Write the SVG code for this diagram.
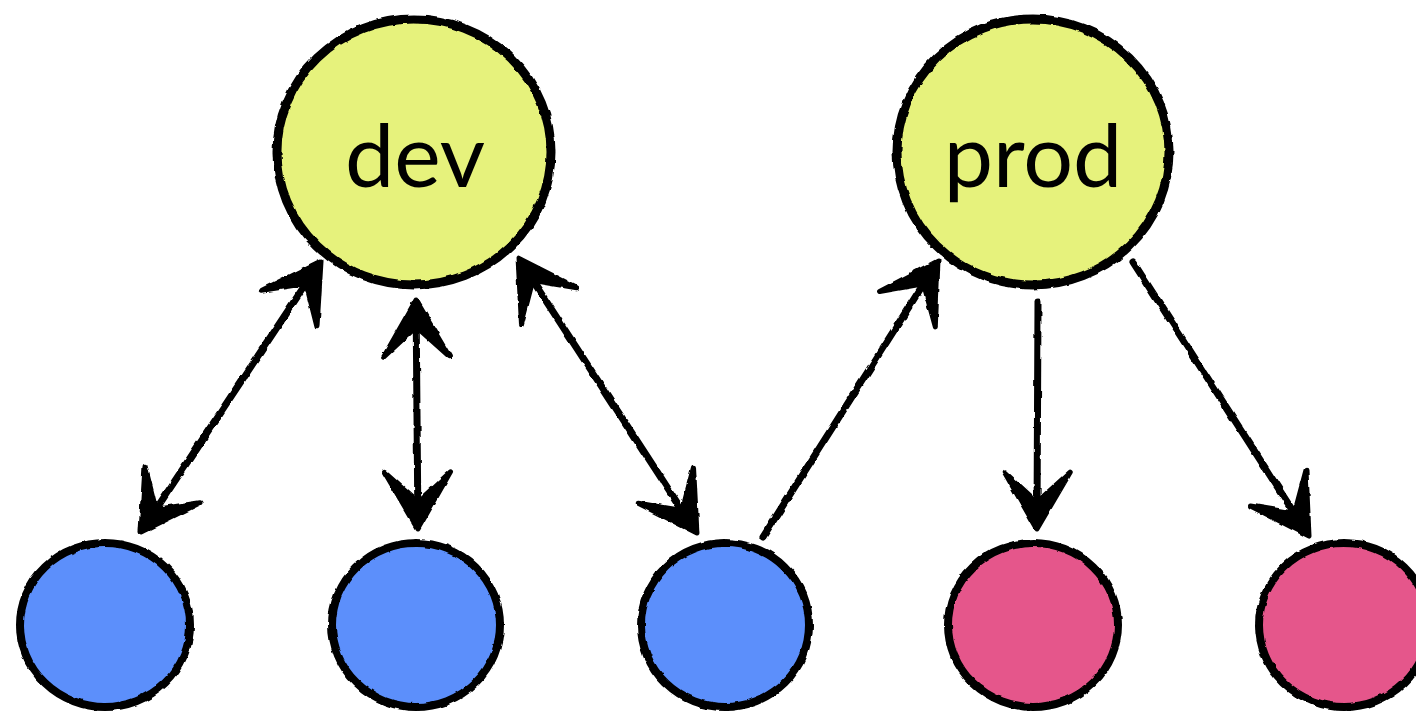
<svg xmlns="http://www.w3.org/2000/svg" width="1416" height="711" viewBox="0 0 1416 711">
<style>
.big{fill:#e6f27c;stroke:#000;stroke-width:9}
.blue{fill:#5c8ffb;stroke:#000;stroke-width:8}
.pink{fill:#e5578b;stroke:#000;stroke-width:8}
.lbl{font-family:Lato,"Noto Sans","DejaVu Sans",sans-serif;font-size:88px;fill:#000;text-anchor:middle}
.conn{fill:none;stroke:#000;stroke-width:7;stroke-linecap:round}
.sk{filter:url(#rough)}
</style>
<defs>
<filter id="rough" x="-5%" y="-5%" width="110%" height="110%">
<feTurbulence type="fractalNoise" baseFrequency="0.09" numOctaves="2" seed="3" result="n"/>
<feDisplacementMap in="SourceGraphic" in2="n" scale="3.5" xChannelSelector="R" yChannelSelector="G"/>
</filter>
<marker id="head" markerUnits="userSpaceOnUse" viewBox="-66 -42 78 84" markerWidth="78" markerHeight="84" refX="-8" refY="0" orient="auto-start-reverse">
<path d="M0,0 L-57,-33 L-27,0 L-57,33 Z" fill="#000" stroke="#000" stroke-width="5" stroke-linejoin="round"/>
</marker>
</defs>
<rect width="1416" height="711" fill="#fff"/>
<g id="connectors" class="sk">
<path class="conn" d="M316.6,267.7 L145.4,525.3" marker-start="url(#head)" marker-end="url(#head)"/>
<path class="conn" d="M416.1,308 L417.9,521" marker-start="url(#head)" marker-end="url(#head)"/>
<path class="conn" d="M522.4,264.7 L692.6,526.3" marker-start="url(#head)" marker-end="url(#head)"/>
<path class="conn" d="M763,537 L933.7,267.8" marker-end="url(#head)"/>
<path class="conn" d="M1038,302 L1037,521" marker-end="url(#head)"/>
<path class="conn" d="M1133,262 L1304.7,529.3" marker-end="url(#head)"/>
</g>
<g id="dev">
<ellipse class="big sk" cx="414" cy="152" rx="137" ry="133"/>
<text class="lbl" x="415" y="187">dev</text>
</g>
<g id="prod">
<ellipse class="big sk" cx="1033" cy="152" rx="136" ry="133"/>
<text class="lbl" x="1033" y="187">prod</text>
</g>
<g id="n1"><ellipse class="blue sk" cx="105" cy="625" rx="85" ry="82"/></g>
<g id="n2"><ellipse class="blue sk" cx="416" cy="625" rx="84" ry="82"/></g>
<g id="n3"><ellipse class="blue sk" cx="725" cy="625" rx="84" ry="82"/></g>
<g id="n4"><ellipse class="pink sk" cx="1033" cy="625" rx="85" ry="82"/></g>
<g id="n5"><ellipse class="pink sk" cx="1344" cy="625" rx="85" ry="82"/></g>
</svg>
